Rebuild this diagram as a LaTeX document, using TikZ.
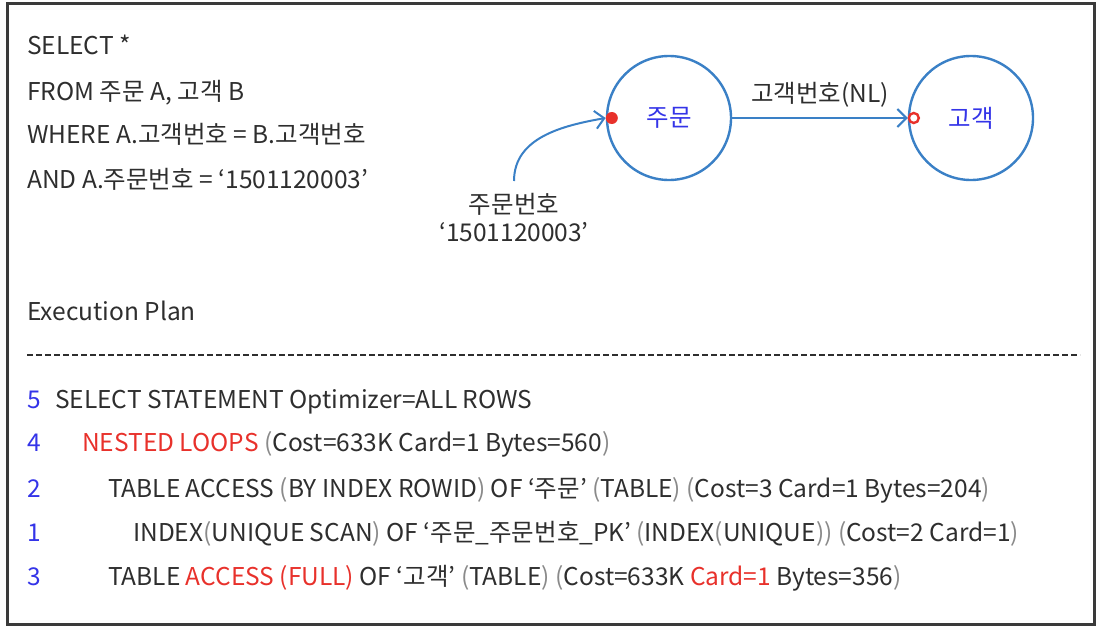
\documentclass[tikz,border=0pt]{standalone}
\usepackage{fontspec}
\setmainfont{Noto Sans CJK KR}
\usetikzlibrary{arrows.meta,positioning}
\definecolor{framegrey}{HTML}{3A3A3A}
\definecolor{codegrey}{HTML}{2E2E2E}
\definecolor{parengrey}{HTML}{8A8A8A}
\definecolor{stepblue}{HTML}{3434E8}
\definecolor{hotred}{HTML}{E8312B}
\definecolor{edgeblue}{HTML}{3A80C6}
\newcommand{\hot}[1]{\textcolor{hotred}{#1}}
\newcommand{\pa}[1]{\textcolor{parengrey}{#1}}

\begin{document}
\begin{tikzpicture}[x=1pt,y=-1pt,
      font=\fontsize{24.5}{28}\selectfont,
      code/.style={anchor=base west,inner sep=0pt,text=codegrey},
      stepno/.style={anchor=base west,inner sep=0pt,text=stepblue},
      tbl/.style={circle,draw=edgeblue,line width=2.4pt,minimum size=124pt,
                  inner sep=0pt,text=stepblue},
      fl/.style={-{Straight Barb[length=9pt,width=18pt,line width=2pt]},
                 edgeblue,line width=2pt}]
    \useasboundingbox (0,0) rectangle (1102,634);
    \draw[framegrey,line width=3pt] (7,4) rectangle (1094,624);
    % query
    \node[code] (q1) at (27,55) {SELECT *};
    \node[code] (q2) at (27,100) {FROM 주문 A, 고객 B};
    \node[code] (q3) at (27,143) {WHERE A.고객번호 = B.고객번호};
    \node[code] (q4) at (27,188) {AND A.주문번호 = ‘1501120003’};
    % join graph
    \node[tbl] (ord) at (669,118) {주문};
    \node[tbl] (cus) at (971,118) {고객};
    \node[circle,fill=hotred,minimum size=12pt,inner sep=0pt] (seek)
      at ([xshift=6pt]ord.west) {};
    \node[circle,draw=hotred,line width=2.4pt,minimum size=10pt,inner sep=0pt] (probe)
      at ([xshift=6pt]cus.west) {};
    \draw[fl] (ord.east) -- node[above=10pt,inner sep=0pt,text=codegrey]{고객번호(NL)} (cus.west);
    \node[anchor=north,align=center,inner sep=0pt,text=codegrey] (key) at (514,193)
      {주문번호\\‘1501120003’};
    \draw[fl] ([yshift=12pt]key.north) to[out=90,in=190] (seek.west);
    % plan
    \node[code] (ep) at (27,320) {Execution Plan};
    \draw[codegrey,line width=1.6pt,dash pattern=on 6pt off 3pt] (27,355) -- (1080,355);
    \node[stepno] (n5) at (27,408) {5};
    \node[code] (r5) at (55,408) {SELECT STATEMENT Optimizer=ALL ROWS};
    \node[stepno] (n4) at (27,451) {4};
    \node[code] (r4) at (82,451) {\hot{NESTED LOOPS} \pa{(}Cost=633K Card=1 Bytes=560\pa{)}};
    \node[stepno] (n2) at (27,497) {2};
    \node[code] (r2) at (108,497) {TABLE ACCESS \pa{(}BY INDEX ROWID\pa{)} OF ‘주문’ \pa{(}TABLE\pa{)} \pa{(}Cost=3 Card=1 Bytes=204\pa{)}};
    \node[stepno] (n1) at (27,541) {1};
    \node[code] (r1) at (133,541) {INDEX\pa{(}UNIQUE SCAN\pa{)} OF ‘주문\_주문번호\_PK’ \pa{(}INDEX\pa{(}UNIQUE\pa{))} \pa{(}Cost=2 Card=1\pa{)}};
    \node[stepno] (n3) at (27,585) {3};
    \node[code] (r3) at (108,585) {TABLE \hot{ACCESS} \hot{(FULL)} OF ‘고객’ \pa{(}TABLE\pa{)} \pa{(}Cost=633K \hot{Card=1} Bytes=356\pa{)}};
  \end{tikzpicture}
\end{document}
